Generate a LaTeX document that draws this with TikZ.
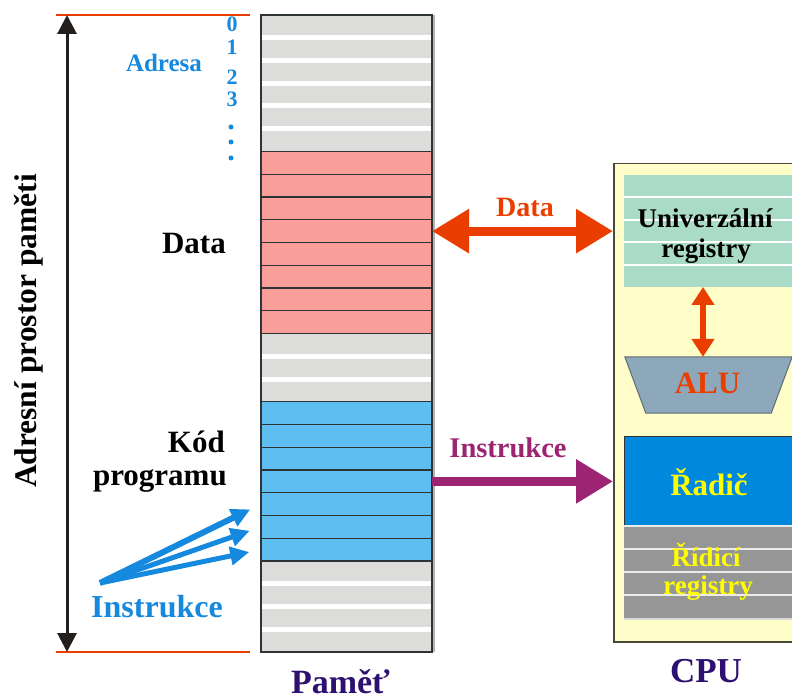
\documentclass[tikz,border=0pt]{standalone}
\usepackage{fontspec}
\setmainfont{Liberation Serif}
\usetikzlibrary{arrows.meta}

\definecolor{cellgray}{HTML}{DCDCDA}
\definecolor{datapink}{HTML}{F99E99}
\definecolor{codeblue}{HTML}{5EBEF2}
\definecolor{rowline}{HTML}{2E3436}
\definecolor{redorange}{HTML}{EA3E00}
\definecolor{wine}{HTML}{9C2473}
\definecolor{addrblue}{HTML}{1589DE}
\definecolor{inkpurple}{HTML}{2E1070}
\definecolor{cpuyellow}{HTML}{FFFDC8}
\definecolor{cpuedge}{HTML}{4A4838}
\definecolor{mint}{HTML}{A9DBC6}
\definecolor{alufill}{HTML}{8DA8BA}
\definecolor{aluedge}{HTML}{5F6B73}
\definecolor{ctrlblue}{HTML}{0088DD}
\definecolor{ctrlgray}{HTML}{969696}
\definecolor{signyellow}{HTML}{FFFF00}
\definecolor{axisblack}{HTML}{231F1C}

\tikzset{
  bigtip/.tip={Triangle[length=37pt,width=42pt]},
  smalltip/.tip={Triangle[length=19pt,width=18pt]},
  axistip/.tip={Triangle[length=19pt,width=19pt]},
  alutip/.tip={Triangle[length=18pt,width=22pt]}
}

\begin{document}
\begin{tikzpicture}[x=1pt,y=-1pt,
  txt/.style={font=\bfseries\fontsize{#1}{#1}\selectfont, inner sep=0pt, anchor=base},
  cellbox/.style={minimum width=171pt, minimum height=22.75pt, inner sep=0pt,
                  outer sep=0pt, anchor=north west},
  colcell/.style={cellbox, draw=rowline, line width=1.2pt},
  regbox/.style={minimum width=172pt, inner sep=0pt, outer sep=0pt, anchor=north west},
  dot/.style={circle, fill=addrblue, inner sep=0pt, minimum size=5pt}
]
\useasboundingbox (0,0) rectangle (792,700);
\clip (0,0) rectangle (792,700);

% ---------- memory column: 28 cells ----------
\foreach \i in {0,1,2,3,4,5,14,15,16,24,25,26,27}
  \node[cellbox, fill=cellgray] (c\i) at (261,{15+22.75*\i}) {};
\foreach \i in {0,1,2,3,4,14,15,24,25,26}
  \draw[white, line width=5pt] (c\i.south west) -- (c\i.south east);
\foreach \i in {6,7,8,9,10,11,12,13}
  \node[colcell, fill=datapink] (c\i) at (261,{15+22.75*\i}) {};
\foreach \i in {17,18,19,20,21,22,23}
  \node[colcell, fill=codeblue] (c\i) at (261,{15+22.75*\i}) {};
\draw[black!30, line width=1.5pt] ([xshift=2.2pt]c0.north east) -- ([xshift=2.2pt]c27.south east);
\draw[rowline, line width=1.5pt] (c0.north west) rectangle (c27.south east);

% ---------- address axis ----------
\coordinate (gtl) at (56,15);  \coordinate (gtr) at (250,15);
\coordinate (gbl) at (56,652); \coordinate (gbr) at (250,652);
\draw[redorange, line width=2pt] (gtl) -- (gtr);
\draw[redorange, line width=2pt] (gbl) -- (gbr);
\coordinate (axtop) at (67,15); \coordinate (axbot) at (67,652);
\draw[axisblack, line width=3pt, {axistip}-{axistip}] (axtop) -- (axbot);
\node[txt=31.5, rotate=90, anchor=center] (span) at (29,331) {Adresní prostor paměti};

% ---------- address labels ----------
\node[txt=25, text=addrblue] (adr) at (164,72) {Adresa};
\node[txt=22, text=addrblue] (n0) at (232,32) {0};
\node[txt=22, text=addrblue] (n1) at (232,55) {1};
\node[txt=22, text=addrblue] (n2) at (232,85) {2};
\node[txt=22, text=addrblue] (n3) at (232,107) {3};
\node[dot] (d1) at (231,127) {};
\node[dot] (d2) at (231,142) {};
\node[dot] (d3) at (231,158) {};

% ---------- region labels ----------
\node[txt=31, anchor=base east] (datalbl) at (226,254) {Data};
\node[txt=31, anchor=base east] (kod) at (225,452) {Kód};
\node[txt=31, anchor=base east] (prog) at (227,485) {programu};
\node[txt=32, text=addrblue] (instr) at (157,617) {Instrukce};
\coordinate (fan) at (100,583);
\draw[addrblue, line width=6pt, -{smalltip}, shorten >=12pt] (fan) -- (c21.west);
\draw[addrblue, line width=5pt, -{smalltip}, shorten >=12pt] (fan) -- (c22.west);
\draw[addrblue, line width=5pt, -{smalltip}, shorten >=12pt] (fan) -- (c23.west);
\node[txt=34, text=inkpurple] (mlbl) at (340.5,693) {Paměť};

% ---------- CPU ----------
\node[draw=cpuedge, fill=cpuyellow, line width=1.5pt, minimum width=192pt,
      minimum height=478pt, inner sep=0pt, anchor=north west] (cpu) at (613,163) {};

% general registers
\node[regbox, fill=mint, minimum height=112pt] (ureg) at (624,175) {};
\foreach \k in {1,2,3,4}
  \draw[white, line width=2pt] (624,{175+22.4*\k}) -- (800,{175+22.4*\k});
\node[txt=27] (u1) at (705,228) {Univerzální};
\node[txt=27] (u2) at (706,258) {registry};

% ALU
\node[minimum width=167pt, minimum height=56pt, inner sep=0pt] (alu) at (708.5,385) {};
\draw[aluedge, fill=alufill, line width=1pt]
  (alu.north west) -- (alu.north east) -- ([xshift=-21pt]alu.south east)
  -- ([xshift=21pt]alu.south west) -- cycle;
\node[txt=31, text=redorange] (alut) at (707.5,393) {ALU};
\coordinate (ax) at (703,0);
\draw[redorange, line width=6pt, {alutip}-{alutip}] (ureg.south -| ax) -- (alu.north -| ax);

% control unit
\node[regbox, fill=ctrlblue, minimum height=90pt] (ctrl) at (624,436) {};
\draw[rowline, line width=1pt] (ctrl.south west) -- (ctrl.north west) -- (ctrl.north east);
\node[txt=31, text=signyellow] (ctrlt) at (709,495) {Řadič};

% control registers
\node[regbox, fill=ctrlgray, minimum height=92pt] (creg) at (624,526) {};
\foreach \yy in {526,549,572,595}
  \draw[white!92!black, line width=2pt] (624,\yy) -- (800,\yy);
\draw[white!85!black, line width=2pt] (624,619) -- (800,619);
\node[txt=27, text=signyellow] (r1) at (706,566) {Řídicí};
\node[txt=27, text=signyellow] (r2) at (708,594) {registry};

\node[txt=35, text=inkpurple] (cpulbl) at (706,682) {CPU};

% ---------- buses ----------
\draw[redorange, line width=9pt, {bigtip}-{bigtip}] (c9.east) -- (c9.east -| cpu.west);
\node[txt=28, text=redorange] (datat) at (525,217) {Data};
\draw[wine, line width=9pt, -{bigtip}] (c20.east) -- (c20.east -| cpu.west);
\node[txt=28.5, text=wine] (instrt) at (508,457) {Instrukce};
\end{tikzpicture}
\end{document}
